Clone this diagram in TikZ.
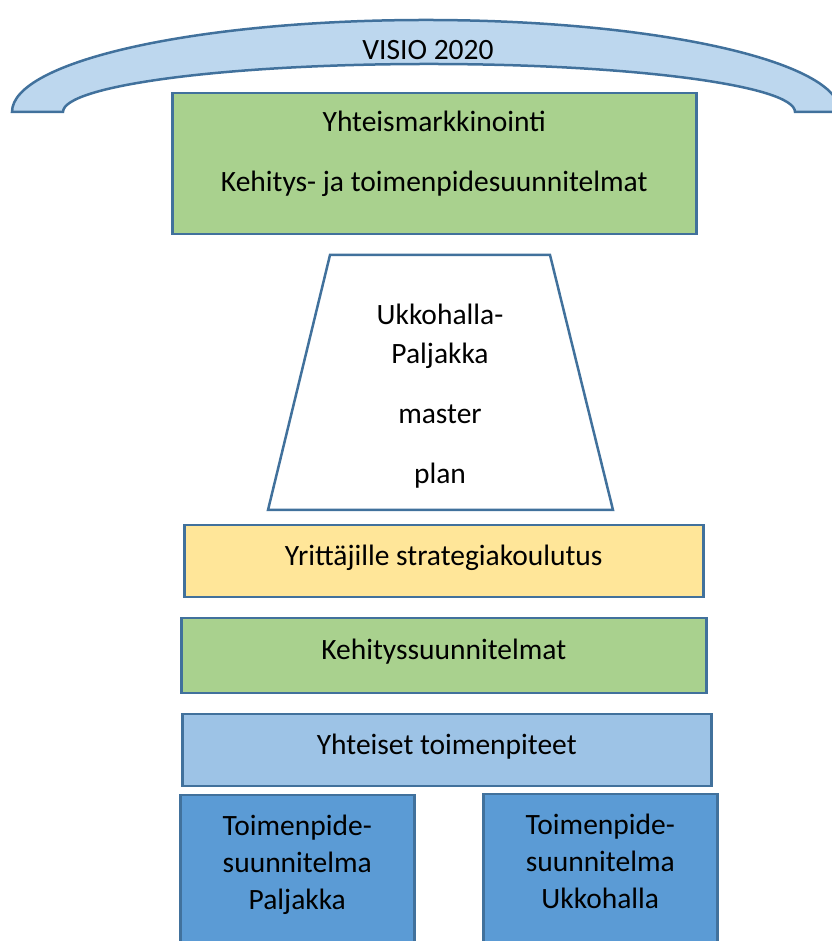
\documentclass[tikz,border=0pt]{standalone}
\usepackage{fontspec}
\setmainfont{Carlito}
\usetikzlibrary{positioning}
\definecolor{edgeblue}{HTML}{41719C}
\definecolor{archblue}{HTML}{BDD7EE}
\definecolor{planGreen}{HTML}{A9D18E}
\definecolor{planYellow}{HTML}{FFE699}
\definecolor{planLight}{HTML}{9DC3E6}
\definecolor{planMid}{HTML}{5B9BD5}

\begin{document}
\begin{tikzpicture}[
  x=1pt, y=1pt,
  every node/.style={font=\fontsize{29.5}{37}\selectfont, align=center, inner sep=0pt},
  plate/.style={draw=edgeblue, line width=2.5pt},
  box/.style={plate, anchor=north west, minimum height=#1},
  box/.default=72,
  oneline/.style={text height=20pt, text depth=12pt}
]
  \useasboundingbox (0,0) rectangle (831,941);

  \draw[plate, fill=archblue] (12,829) arc[start angle=180, end angle=0, x radius=414, y radius=92]
    -- (795,829) arc[start angle=0, end angle=180, x radius=366, y radius=48] -- cycle;
  \node (visio) at (428,891) {VISIO 2020};

  \node[box=141, fill=planGreen, minimum width=524] (markkinointi) at (171,849) {};
  \node[below=19pt of markkinointi.north] (markkinointiTxt)
    {Yhteismarkkinointi\\[23pt]Kehitys- ja toimenpidesuunnitelmat};

  \draw[plate, fill=white] (330,686) -- (550,686) -- (613,431) -- (268,431) -- cycle;
  \coordinate (planTop) at (440,686);
  \node[below=49pt of planTop] (planTxt)
    {Ukkohalla-\\[2pt]Paljakka\\[23pt]master\\[23pt]plan};

  \node[box, oneline, fill=planYellow, minimum width=519] (koulutus) at (183,417) {Yrittäjille strategiakoulutus};
  \node[box=75, oneline, fill=planGreen, minimum width=525] (kehitys) at (180,324) {Kehityssuunnitelmat};
  \node[box, oneline, fill=planLight, minimum width=529] (yhteiset) at (181,228) {Yhteiset toimenpiteet};

  \node[box=175, fill=planMid, minimum width=234] (paljakka) at (179,147) {};
  \node[below=21pt of paljakka.north] (paljakkaTxt) {Toimenpide-\\suunnitelma\\Paljakka};
  \node[box=175, fill=planMid, minimum width=234] (ukkohalla) at (482,148) {};
  \node[below=21pt of ukkohalla.north] (ukkohallaTxt) {Toimenpide-\\suunnitelma\\Ukkohalla};
\end{tikzpicture}
\end{document}
